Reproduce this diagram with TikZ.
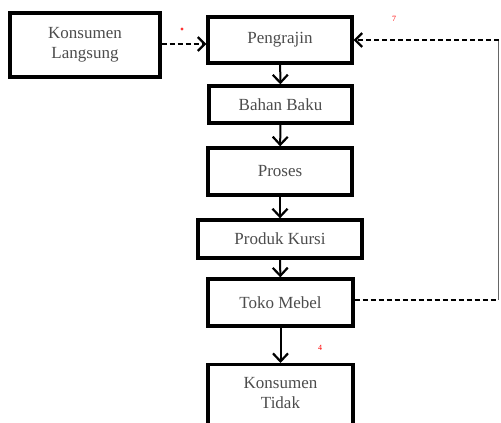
\documentclass[tikz,border=0pt]{standalone}
\usepackage{fontspec}
\setmainfont{Liberation Serif}
\usetikzlibrary{arrows.meta}
\begin{document}
\begin{tikzpicture}[x=1pt,y=-1pt,
  boxstyle/.style={draw=black,line width=3.3pt,inner sep=0pt,font=\fontsize{17}{20}\selectfont,align=center,text=black!70},
  solidarrow/.style={line width=2pt,-{Straight Barb[length=8pt,width=15pt,line width=2.2pt]}},
  dasharrow/.style={line width=2pt,dash pattern=on 5pt off 3pt,-{Straight Barb[length=7pt,width=14pt,line width=2.2pt]}},
  dashline/.style={line width=2pt,dash pattern=on 5pt off 3pt},
  redmark/.style={text=red,font=\fontsize{8}{9}\selectfont,inner sep=0pt}]
\useasboundingbox (0,0) rectangle (501,423);
\clip (0,0) rectangle (501,423);
\node[boxstyle,minimum width=150pt,minimum height=64pt] (kl) at (85,45) {Konsumen\\Langsung};
\node[boxstyle,minimum width=144pt,minimum height=46pt] (p) at (280,40) {Pengrajin};
\node[boxstyle,minimum width=143pt,minimum height=37pt] (bb) at (280.5,104.5) {Bahan Baku};
\node[boxstyle,minimum width=144pt,minimum height=47pt] (pr) at (280,171.5) {Proses};
\node[boxstyle,minimum width=164pt,minimum height=38pt] (pk) at (280,239) {Produk Kursi};
\node[boxstyle,minimum width=145pt,minimum height=47pt] (tm) at (280.5,302.5) {Toko Mebel};
\node[boxstyle,minimum width=145pt,minimum height=80pt,anchor=north] (kt) at (280.5,363) {};
\node[font=\fontsize{17}{20}\selectfont,align=center,text=black!70] (ktl) at (280.5,393) {Konsumen\\Tidak};
\coordinate (c1) at (498.5,40);
\coordinate (c2) at (498.5,300);
\draw[solidarrow] (p) -- (bb);
\draw[solidarrow] (bb) -- (pr);
\draw[solidarrow] (pr) -- (pk);
\draw[solidarrow] (pk) -- (tm);
\draw[solidarrow] (tm) -- (kt);
\draw[dasharrow] (kl.east |- p.west) ++(0,4) coordinate (klout) (klout) -- (p.west |- klout);
\draw[dashline] (tm.east |- c2) -- (c2);
\draw[line width=0.8pt,black!60] (c2) -- (c1);
\draw[dasharrow] (c1) -- (p.east);
\fill[red!80] (182,29) circle (1.6pt);
\node[redmark] (r2) at (394,19) {7};
\node[redmark] (r4) at (320,348) {4};
\end{tikzpicture}
\end{document}
